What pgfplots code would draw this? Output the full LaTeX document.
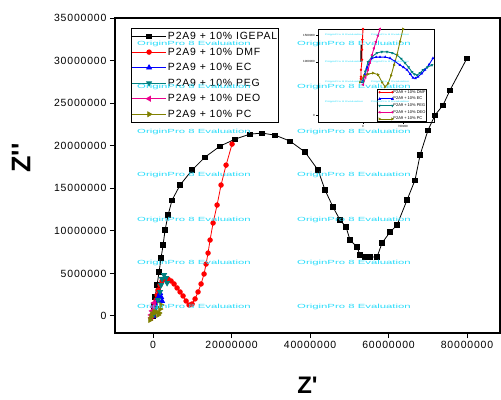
\documentclass[border=0pt]{standalone}
\usepackage{fontspec}
\setmainfont{Liberation Sans}
\usepackage{pgfplots}
\pgfplotsset{compat=1.18}
\usetikzlibrary{calc}
\definecolor{pteal}{RGB}{0,128,128}
\definecolor{polive}{RGB}{128,128,0}
\definecolor{wm}{RGB}{40,220,250}
\newcommand{\wmtext}{OriginPro 8 Evaluation}
\newfontfamily\spaced[LetterSpace=8]{Liberation Sans}
\begin{document}
\begin{tikzpicture}
\begin{axis}[
    name=ax,
    width=385bp, height=315bp, scale only axis,
    xmin=-9.7e6, xmax=88.4e6,
    ymin=-2e6, ymax=35e6,
    xtick={0,2e7,4e7,6e7,8e7},
    xticklabels={0,20000000,40000000,60000000,80000000},
    ytick={0,5e6,1e7,1.5e7,2e7,2.5e7,3e7,3.5e7},
    yticklabels={0,5000000,10000000,15000000,20000000,25000000,30000000,35000000},
    scaled ticks=false,
    tick align=outside, tick pos=left,
    major tick length=5bp,
    axis line style={line width=1.2pt},
    every tick/.style={black, line width=1pt},
    tick label style={font=\spaced\fontsize{10.5}{12}\selectfont},
    /pgf/number format/assume math mode=true,
    xlabel={Z\textquotesingle},
    ylabel={Z\textquotesingle\textquotesingle},
    xlabel style={at={(axis description cs:0.5,-0.166)}, anchor=center,
                  font=\bfseries\fontsize{24}{28}\selectfont},
    ylabel style={at={(axis description cs:-0.244,0.556)}, anchor=center,
                  font=\bfseries\fontsize{27}{30}\selectfont},
    legend entries={P2A9 + 10\% IGEPAL, P2A9 + 10\% DMF, P2A9 + 10\% EC,
                    P2A9 + 10\% PEG, P2A9 + 10\% DEO, P2A9 + 10\% PC},
    legend image code/.code={\draw[mark repeat=2,mark phase=2,#1]
        plot coordinates {(0cm,0cm) (0.6cm,0cm) (1.2cm,0cm)};},
    legend style={at={(0.042,0.968)}, anchor=north west, draw=black,
                  line width=1pt, fill=none,
                  font=\spaced\fontsize{10.5}{12}\selectfont,
                  inner xsep=0pt, inner ysep=3pt, row sep=5.6pt,
                  nodes={inner ysep=0pt, inner xsep=1.5pt, text height=8pt,
                         text depth=2pt, anchor=west}},
    legend cell align=left,
]
% P2A9 + 10% IGEPAL
\addplot[black, line width=0.8pt, mark=square*, mark size=2.2pt] coordinates {
    (0,0) (0.25e6,1.17e6) (0.51e6,2.23e6) (1.02e6,3.64e6) (1.53e6,5.16e6)
    (2.04e6,6.81e6) (2.55e6,8.33e6) (3.06e6,10.09e6) (3.82e6,11.85e6)
    (4.84e6,13.61e6) (6.88e6,15.38e6) (9.94e6,17.14e6) (13.25e6,18.66e6)
    (17.07e6,19.95e6) (20.89e6,20.77e6) (24.71e6,21.36e6) (27.77e6,21.48e6)
    (31.08e6,21.24e6) (34.90e6,20.54e6) (38.73e6,19.25e6) (42.04e6,17.14e6)
    (43.82e6,14.79e6) (45.86e6,12.79e6) (47.64e6,11.27e6) (49.17e6,10.45e6)
    (50.19e6,8.92e6) (51.97e6,8.10e6) (52.74e6,7.16e6) (54.01e6,6.92e6)
    (55.29e6,6.92e6) (57.07e6,6.92e6) (58.34e6,8.57e6) (60.38e6,9.86e6)
    (62.17e6,10.68e6) (64.71e6,13.62e6) (66.75e6,15.96e6) (68.03e6,18.90e6)
    (70.06e6,21.83e6) (71.85e6,23.59e6) (73.89e6,24.77e6) (75.67e6,26.53e6)
    (80.00e6,30.28e6)
};
% P2A9 + 10% DMF
\addplot[red, line width=0.8pt, mark=*, mark size=2.3pt] coordinates {
    (0,0) (0.25e6,0.59e6) (0.51e6,1.29e6) (0.76e6,1.88e6) (1.02e6,2.46e6)
    (1.27e6,3.05e6) (1.78e6,3.64e6) (2.29e6,4.11e6) (3.06e6,4.34e6)
    (3.82e6,4.34e6) (4.59e6,4.11e6) (5.35e6,3.76e6) (6.11e6,3.29e6)
    (6.88e6,2.82e6) (7.64e6,2.35e6) (8.41e6,1.76e6) (9.17e6,1.29e6)
    (9.94e6,1.41e6) (10.70e6,2.00e6) (11.46e6,2.82e6) (12.23e6,3.76e6)
    (12.99e6,4.93e6) (13.50e6,6.10e6) (14.01e6,7.39e6) (14.52e6,8.92e6)
    (15.29e6,10.92e6) (16.31e6,13.03e6) (17.32e6,15.38e6) (18.60e6,17.72e6)
    (20.13e6,20.19e6)
};
% P2A9 + 10% EC
\addplot[blue, line width=0.8pt, mark=triangle*, mark size=2.8pt] coordinates {
    (0,0) (0.25e6,0.47e6) (0.76e6,1.17e6) (1.02e6,1.88e6) (1.53e6,2.35e6)
    (1.78e6,2.70e6) (2.04e6,2.23e6) (2.29e6,1.76e6)
};
% P2A9 + 10% PEG
\addplot[pteal, line width=0.8pt, mark=triangle*, mark size=2.8pt,
         mark options={rotate=180}] coordinates {
    (0.25e6,0.23e6) (0.76e6,0.94e6) (1.27e6,1.88e6) (1.78e6,2.82e6)
    (2.04e6,3.64e6) (2.29e6,4.34e6) (2.80e6,4.81e6) (3.31e6,4.46e6)
    (3.57e6,3.87e6)
};
% P2A9 + 10% DEO
\addplot[magenta, line width=0.8pt, mark=triangle*, mark size=2.8pt,
         mark options={rotate=90}] coordinates {
    (-0.51e6,-0.23e6) (-0.51e6,0.12e6) (-0.25e6,0.59e6) (0,1.06e6)
    (0.25e6,1.53e6)
};
% P2A9 + 10% PC
\addplot[polive, line width=0.8pt, mark=triangle*, mark size=2.8pt,
         mark options={rotate=-90}] coordinates {
    (-0.76e6,-0.47e6) (-0.51e6,-0.12e6) (-0.25e6,0.23e6) (0.25e6,0.47e6)
    (0.76e6,0.47e6) (1.27e6,0.12e6) (1.53e6,0.35e6) (1.78e6,0.82e6)
    (2.04e6,1.29e6)
};
\end{axis}

% evaluation watermark
\foreach \dy in {289,246,201,158,113,70,26} {
    \node[wm, font=\fontsize{6}{6}\selectfont, xscale=1.9, inner sep=0pt]
        at ($(ax.south west)+(79bp,\dy bp)$) {\wmtext};
    \node[wm, font=\fontsize{6}{6}\selectfont, xscale=1.9, inner sep=0pt]
        at ($(ax.south west)+(239bp,\dy bp)$) {\wmtext};
}

% inset
\begin{axis}[
    name=inset,
    at={($(ax.south west)+(203bp,211bp)$)}, anchor=south west,
    width=116bp, height=93bp, scale only axis,
    xmin=-0.79e6, xmax=1.246e6,
    ymin=-0.132e6, ymax=1.62e6,
    xtick={0,7e5}, xticklabels={0,700000},
    ytick={0,1e6,1.5e6}, yticklabels={0,1000000,1500000},
    scaled ticks=false,
    tick align=outside, tick pos=left,
    major tick length=2bp,
    axis line style={line width=0.8pt},
    every tick/.style={black, line width=0.6pt},
    tick label style={font=\fontsize{3}{3}\selectfont, inner sep=1pt},
    /pgf/number format/assume math mode=true,
    legend entries={P2A9 + 10\% DMF, P2A9 + 10\% EC, P2A9 + 10\% PEG,
                    P2A9 + 10\% DEO, P2A9 + 10\% PC},
    legend image code/.code={\draw[#1] plot coordinates {(0cm,0cm) (0.45cm,0cm)};},
    legend style={at={(0.94,0)}, anchor=south east, draw=black,
                  line width=0.6pt, fill=white,
                  font=\fontsize{4}{4}\selectfont,
                  inner sep=1pt, row sep=3.2pt,
                  nodes={inner sep=0.3pt, text height=2.4pt, text depth=0.5pt}},
    legend cell align=left,
]
\addplot[black, line width=1.4pt, forget plot] coordinates {
    (-35e3,1.0e6) (-33e3,1.15e6) (-30e3,1.32e6)
};
\addplot[red, line width=0.9pt, mark=*, mark size=0.7pt] coordinates {
    (-40e3,0.68e6) (-35e3,0.72e6) (-35e3,0.85e6) (-17e3,1.04e6)
    (-17e3,1.23e6) (-10e3,1.42e6) (0,1.62e6) (0,1.98e6)
};
\addplot[blue, line width=0.9pt, mark=triangle*, mark size=0.8pt] coordinates {
    (-17e3,0.62e6) (30e3,0.76e6) (70e3,0.89e6) (115e3,0.99e6) (158e3,1.07e6)
    (230e3,1.09e6) (298e3,1.09e6) (390e3,1.09e6) (474e3,1.07e6)
    (560e3,1.01e6) (649e3,0.94e6) (710e3,0.90e6) (772e3,0.85e6)
    (830e3,0.77e6) (877e3,0.70e6) (920e3,0.69e6) (965e3,0.72e6)
    (1.03e6,0.78e6) (1.088e6,0.85e6) (1.16e6,0.95e6) (1.228e6,1.07e6)
};
\addplot[pteal, line width=0.9pt, mark=triangle*, mark size=0.8pt,
         mark options={rotate=180}] coordinates {
    (0,0.62e6) (40e3,0.82e6) (88e3,1.00e6) (160e3,1.10e6) (246e3,1.17e6)
    (330e3,1.19e6) (421e3,1.19e6) (510e3,1.17e6) (596e3,1.13e6)
    (670e3,1.06e6) (737e3,0.98e6) (800e3,0.90e6) (860e3,0.81e6)
    (900e3,0.77e6) (947e3,0.75e6) (1.0e6,0.79e6) (1.053e6,0.85e6)
    (1.13e6,0.90e6) (1.211e6,0.94e6)
};
\addplot[magenta, line width=0.9pt, mark=triangle*, mark size=0.8pt,
         mark options={rotate=90}] coordinates {
    (0,0.57e6) (45e3,0.71e6) (88e3,0.85e6) (123e3,0.99e6) (158e3,1.13e6)
    (193e3,1.26e6) (228e3,1.38e6) (263e3,1.50e6) (298e3,1.62e6) (351e3,1.83e6)
};
\addplot[polive, line width=0.9pt, mark=triangle*, mark size=0.8pt,
         mark options={rotate=-90}] coordinates {
    (-53e3,0.62e6) (17e3,0.74e6) (88e3,0.77e6) (175e3,0.79e6) (263e3,0.76e6)
    (333e3,0.62e6) (386e3,0.53e6) (439e3,0.59e6) (491e3,0.74e6)
    (544e3,0.94e6) (596e3,1.13e6) (649e3,1.38e6) (702e3,1.62e6) (737e3,1.79e6)
};
\end{axis}

% inset watermark
\foreach \dy in {298,271,251,231} {
    \node[wm, font=\fontsize{2.2}{2.2}\selectfont, xscale=1.75, inner sep=0pt]
        at ($(ax.south west)+(229bp,\dy bp)$) {\wmtext};
    \node[wm, font=\fontsize{2.2}{2.2}\selectfont, xscale=1.75, inner sep=0pt]
        at ($(ax.south west)+(275bp,\dy bp)$) {\wmtext};
}

\pgfresetboundingbox
\path ($(ax.south west)+(-115bp,-67bp)$) rectangle ($(ax.south west)+(386bp,333bp)$);
\end{tikzpicture}
\end{document}
